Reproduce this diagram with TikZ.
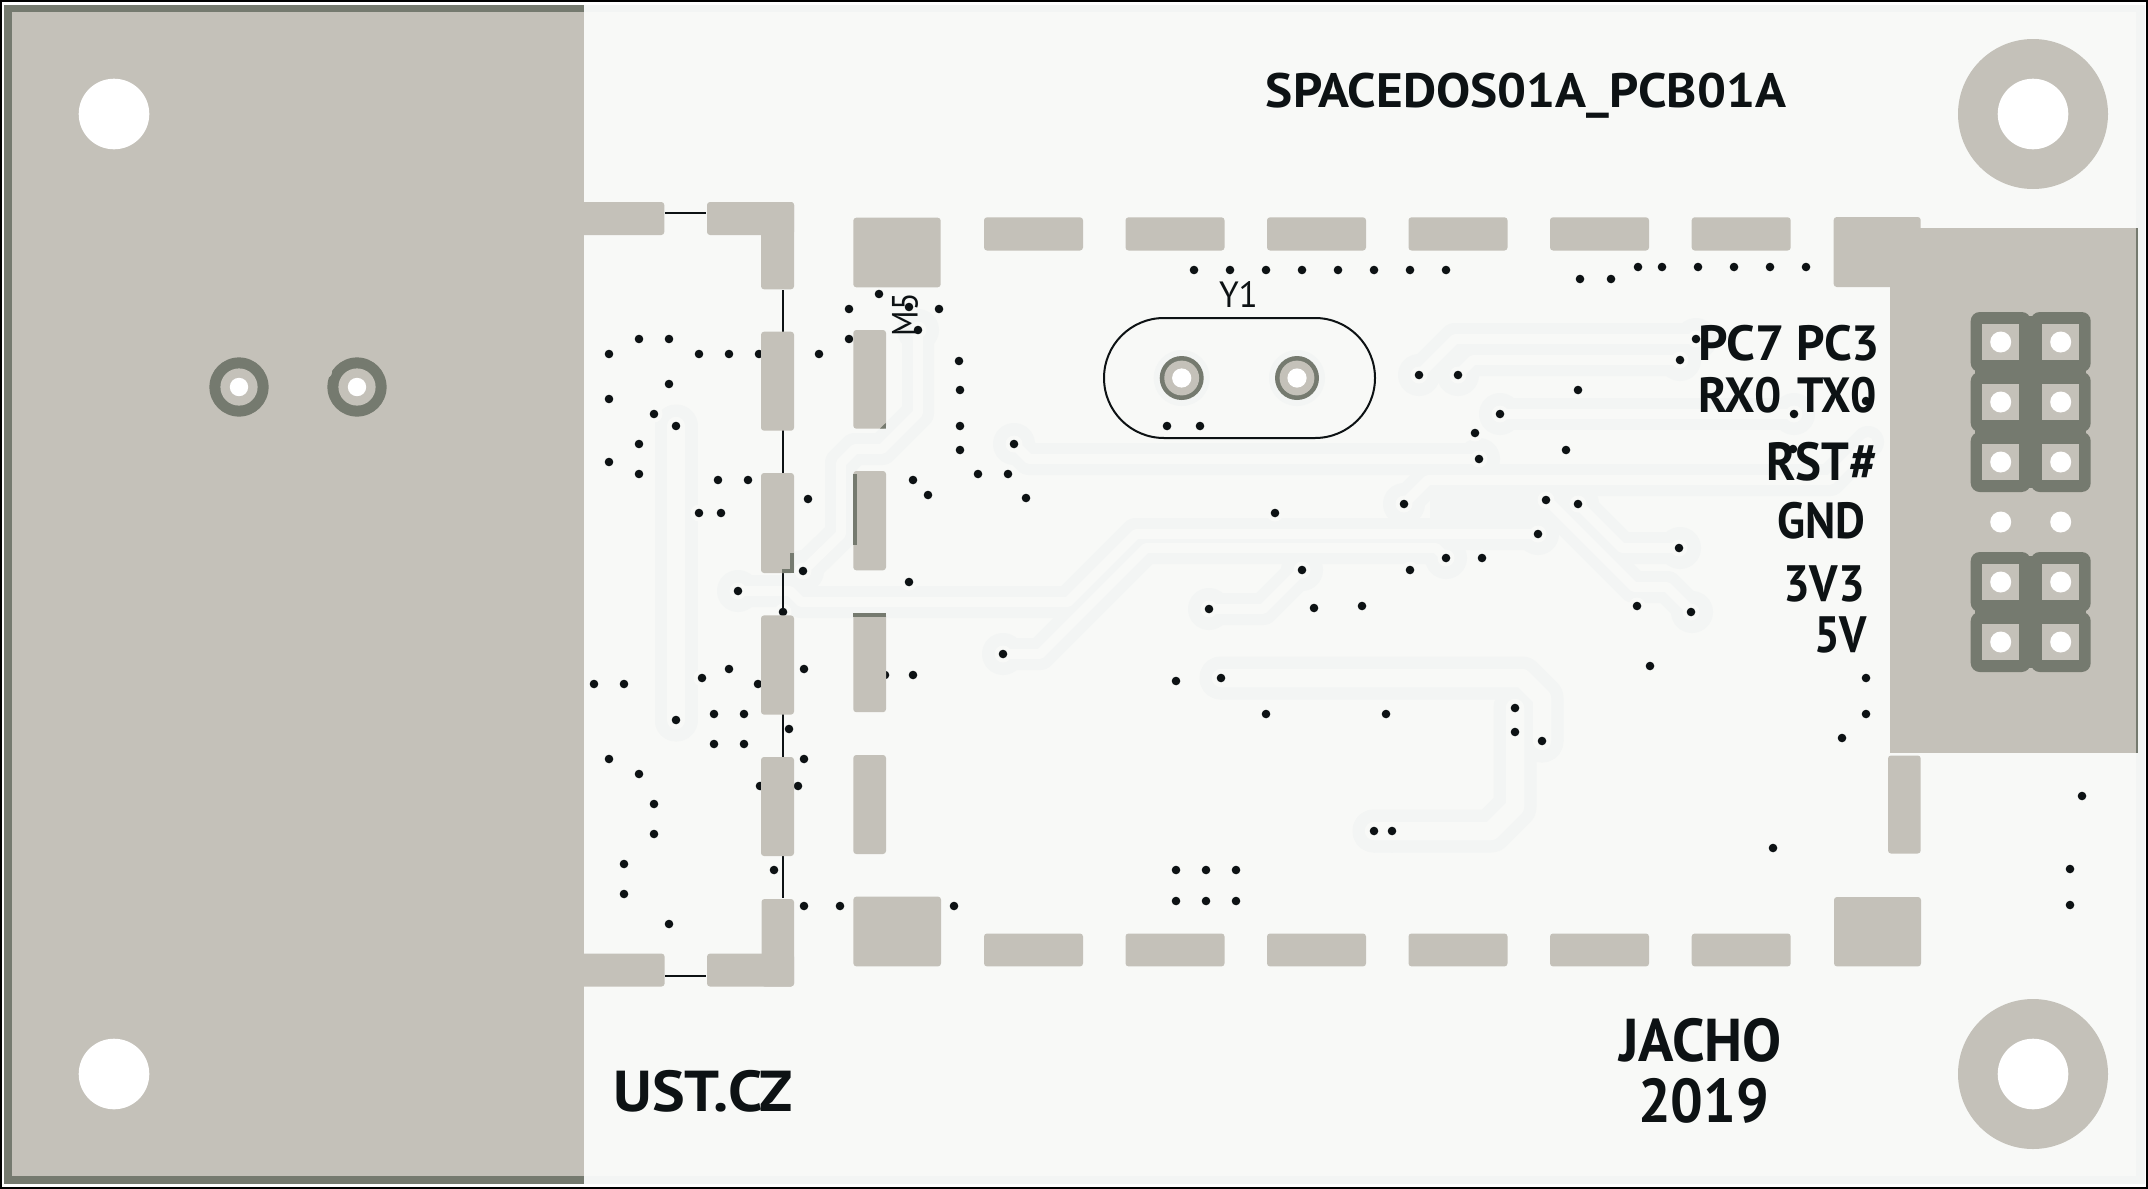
\documentclass[tikz,border=0pt]{standalone}
\usepackage{fontspec}
\usepackage{graphicx}
\newfontfamily\pcbfont{PT Sans}
\definecolor{boardbg}{HTML}{F8F9F7}
\definecolor{tracecol}{HTML}{F3F5F4}
\definecolor{padcol}{HTML}{C4C1B9}
\definecolor{darkcol}{HTML}{757A6F}
\definecolor{inkcol}{HTML}{0D1214}
\tikzset{
  padbox/.style={fill=padcol,rounded corners=3pt},
  thinouter/.style={draw=tracecol,line width=32pt,line cap=round,line join=round},
  thininner/.style={draw=boardbg,line width=10pt,line cap=round,line join=round},
  wideouter/.style={draw=tracecol,line width=43pt,line cap=round,line join=round},
  wideinner/.style={draw=boardbg,line width=18.5pt,line cap=round,line join=round},
  silk/.style={draw=inkcol,line width=2pt}
}
\newcommand{\pcbpad}[4]{\path[padbox] (#1,#2) rectangle (#3,#4);}
\newcommand{\thinpaths}[1]{%
  \path[#1] (1419,375) -- (1455,339) -- (1696,339);
  \path[#1] (1458,375) -- (1473,360) -- (1680,360);
  \path[#1] (1500,414) -- (1794,414);
  \path[#1] (1014,444) -- (1029,459) -- (1479,459);
  \path[#1] (1404,504) -- (1428,480) -- (1830,480) -- (1868,442);
  \path[#1] (738,591) -- (790,591) -- (801,602) -- (1068,602) -- (1136,534) -- (1538,534);
  \path[#1] (1003,654) -- (1040,654) -- (1146,548) -- (1436,548) -- (1446,558);
  \path[#1] (1547,500) -- (1634,587) -- (1667,587) -- (1692,612);
  \path[#1] (1578,504) -- (1622,548) -- (1680,548);
  \path[#1] (1209,609) -- (1263,609) -- (1302,570);
  \path[#1] (918,330) -- (918,413) -- (882,449) -- (855,449) -- (841,463) -- (841,534) -- (803,571);
}
\newcommand{\widepaths}[1]{%
  \path[#1] (676,426) -- (676,720);
  \path[#1] (1221,678) -- (1522,678) -- (1542,698) -- (1542,741);
  \path[#1] (1374,831) -- (1491,831) -- (1515,807) -- (1515,708);
}
% name, x1, y1, x2, y2, font switch, text
\newcommand{\fittext}[7]{%
  \pgfmathsetmacro{\fw}{#4-#2}\pgfmathsetmacro{\fh}{#5-#3}%
  \node[inner sep=0pt,outer sep=0pt,text=inkcol] (#1) at ({(#2+#4)/2},{(#3+#5)/2})
    {\resizebox*{\fw pt}{\fh pt}{\pcbfont#6\fontsize{40pt}{44pt}\selectfont #7}};}
\begin{document}
\begin{tikzpicture}[x=1pt,y=-1pt]
\useasboundingbox (0,0) rectangle (2148,1189);
\fill[white] (0,0) rectangle (2148,1189);
\draw[black,line width=2.5pt] (1.2,1.2) rectangle (2146.8,1187.8);
% board
\fill[tracecol] (4,4.5) rectangle (2145,1184);
\fill[boardbg] (12,11.5) rectangle (2136,1176);
% tracks
\thinpaths{thinouter}
\widepaths{wideouter}
\fill[tracecol] (1430,484) rectangle (1545,526);
\foreach \x/\y in {1419/375,1458/375,1696/339,1680/360,1500/414,1794/414,1014/444,1479/459,1404/504,738/591,1538/534,1003/654,1446/558,1547/500,1578/504,1680/548,1692/612,1209/609,1302/570,918/330,803/571,1221/678,1542/741,1374/831,1392/831,1515/708,676/426,676/720}
  \fill[tracecol] (\x,\y) circle (21);
\thinpaths{thininner}
\widepaths{wideinner}
% drill dots with their clearance
\foreach \x/\y in {639/339,669/339,609/354,699/354,729/354,759/354,819/354,669/384,609/399,654/414,676/426,639/444,609/462,639/474,718/480,748/480,699/513,721/513,738/591,
879/294,849/309,939/309,909/307,918/330,849/339,808/499,803/571,959/361,960/390,960/426,960/450,978/474,913/480,928/495,
909/582,783/612,1003/654,1302/570,1209/609,1314/608,1362/606,594/684,624/684,702/678,729/669,758/684,804/669,885/675,913/675,1176/681,1221/678,676/720,714/714,744/714,714/744,744/744,789/729,804/759,609/759,639/774,654/804,654/834,624/864,624/894,669/924,760/786,798/786,774/870,804/906,840/906,954/906,1176/870,1206/870,1236/870,1176/901,1206/901,1236/901,1266/714,
1194/270,1230/270,1266/270,1302/270,1338/270,1374/270,1410/270,1446/270,1580/279,1611/279,1638/267,1662/267,1698/267,1734/267,1770/267,1806/267,
1167/426,1200/426,1014/444,1008/474,1026/498,1419/375,1458/375,1680/360,1696/339,1578/390,1500/414,1475/433,1479/459,1566/450,1404/504,1546/500,1578/504,1275/513,1538/534,1679/548,1446/558,1482/558,1410/570,1637/606,1691/612,1650/666,
1794/414,1793/449,1866/401,1866/678,1866/714,1842/738,2082/796,2070/869,2070/905,1773/848,1374/831,1392/831,1515/708,1515/732,1542/741,1386/714}
{
  \fill[boardbg] (\x,\y) circle (8.5);
  \fill[inkcol] (\x,\y) circle (4.3);
}
% silk lines
\draw[silk] (783.3,290) -- (783.3,898);
\draw[silk] (665,212.7) -- (706,212.7);
\draw[silk] (665,975.7) -- (706,975.7);
% left copper area
\fill[darkcol] (4,4.5) rectangle (584,1183.5);
\fill[padcol] (12,11.5) rectangle (584,1176);
\fill[white] (114,114) circle (35.3);
\fill[white] (114,1074) circle (35.3);
\foreach \x in {239,357}{
  \fill[darkcol] (\x,387) circle (29.6);
  \fill[padcol] (\x,387) circle (18.6);
  \fill[white] (\x,387) circle (9.2);
}
\fill[padcol] (326,372) circle (6);
% mounting rings
\foreach \y in {114,1074}{
  \fill[padcol] (2033,\y) circle (75);
  \fill[white] (2033,\y) circle (35.3);
}
% connector tabs
\path[padbox] (570,202) rectangle (664.3,235);
\path[padbox] (570,953.6) rectangle (664.6,986.5);
\fill[padcol] (570,190) rectangle (584,1000);
\pcbpad{707}{202}{794}{235}
\pcbpad{761}{202}{794}{289.3}
\pcbpad{707}{953.6}{794}{986.5}
\pcbpad{761.5}{899}{794}{986.5}
% edge columns
\pcbpad{761}{331.7}{794}{430.7}
\pcbpad{761}{473}{794}{573}
\pcbpad{761}{615.4}{794}{714.6}
\pcbpad{761}{757}{794}{856}
\pcbpad{853.3}{330}{886}{428.7}
\pcbpad{853.3}{471}{886}{570.3}
\pcbpad{853.3}{613}{886}{712.2}
\pcbpad{853.3}{755}{886}{854}
% dark slivers on pads
\fill[darkcol] (853.3,474) rectangle (857.3,545);
\fill[darkcol] (853.3,613.2) rectangle (886,617);
\fill[darkcol] (790,553) rectangle (794,572.5);
\fill[darkcol] (782,568.5) rectangle (794,572.5);
\fill[darkcol] (880,428.5) -- (885.8,428.5) -- (885.8,423) -- cycle;
% module corners
\pcbpad{853.3}{217.7}{940.7}{287.3}
\pcbpad{853.4}{896.6}{941}{966.4}
\pcbpad{1833.7}{217}{1920.7}{287}
\pcbpad{1834}{897}{1921}{966.4}
\pcbpad{1888}{755.5}{1920.7}{853.5}
% top and bottom pad rows
\foreach \x in {984,1125.5,1267,1408.5,1550,1691.7}{
  \pcbpad{\x}{217.3}{\x+99}{250.5}
  \pcbpad{\x}{933.5}{\x+99}{966.4}
}
% right connector block
\fill[darkcol] (2130,227.5) rectangle (2138.3,753);
\fill[padcol] (1890,227.5) rectangle (2136,753);
\foreach \y in {342,402,462,582,642}
  \foreach \x in {2000.7,2060.7}
    \path[fill=darkcol,rounded corners=9pt] (\x-30,\y-30) rectangle (\x+30,\y+30);
\fill[darkcol] (1975,342) rectangle (2086,462);
\fill[darkcol] (1975,582) rectangle (2086,642);
\fill[darkcol] (2000,316) rectangle (2061,488);
\fill[darkcol] (2000,556) rectangle (2061,668);
\foreach \y in {342,402,462,582,642}
  \foreach \x in {2000.7,2060.7}
    \fill[padcol] (\x-18.3,\y-18.2) rectangle (\x+18.3,\y+18.2);
\foreach \y in {342,402,462,522,582,642}
  \foreach \x in {2000.7,2060.7}
    \fill[white] (\x,\y) circle (10.5);
% crystal
\node[draw=inkcol,line width=2pt,rounded corners=60pt,minimum width=271pt,minimum height=120pt,inner sep=0pt,outer sep=0pt] (crystal) at (1239.5,378) {};
\foreach \x in {1181.7,1297}{
  \fill[tracecol] (\x,378) circle (28);
  \fill[darkcol] (\x,378) circle (22);
  \fill[padcol] (\x,378) circle (17.4);
  \fill[white] (\x,378) circle (9.6);
}
% texts
\fittext{title}{1266}{72.7}{1786}{118}{\bfseries}{SPACEDOS01A\_PCB01A}
\fittext{ust}{613.6}{1070}{793}{1112}{\bfseries}{UST.CZ}
\fittext{jacho}{1619}{1018}{1782}{1062}{\bfseries}{JACHO}
\fittext{year}{1638}{1078}{1769}{1123}{\bfseries}{2019}
\fittext{pcseven}{1698}{325.5}{1785}{361.5}{\bfseries}{PC7}
\fittext{pcthree}{1796}{325.5}{1880}{361.5}{\bfseries}{PC3}
\fittext{rxzero}{1698}{377}{1782}{413}{\bfseries}{RX0}
\fittext{txzero}{1797}{377}{1877}{413}{\bfseries}{TX0}
\fittext{rst}{1766}{442}{1877}{481}{\bfseries}{RST\#}
\fittext{gnd}{1777}{502}{1865}{539}{\bfseries}{GND}
\fittext{vthree}{1783}{565.5}{1865}{602}{\bfseries}{3V3}
\fittext{vfive}{1814}{617}{1867}{653.5}{\bfseries}{5V}
\fittext{yone}{1219}{281}{1258}{307}{}{Y1}
\node[inner sep=0pt,outer sep=0pt,text=inkcol,rotate=90] (mfive) at (905,314.5)
  {\resizebox*{43pt}{26pt}{\pcbfont\fontsize{40pt}{44pt}\selectfont M5}};
\end{tikzpicture}
\end{document}
